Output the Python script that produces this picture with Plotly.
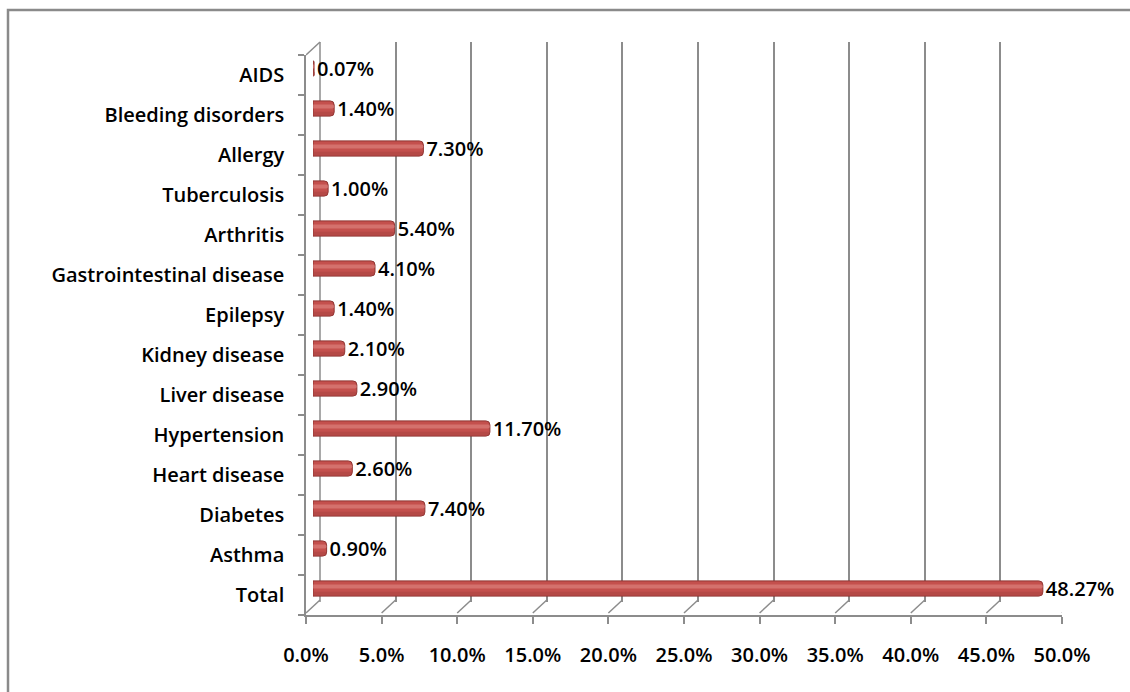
import plotly.graph_objects as go

# ---- data ----
categories = ["Total", "Asthma", "Diabetes", "Heart disease", "Hypertension",
              "Liver disease", "Kidney disease", "Epilepsy",
              "Gastrointestinal disease", "Arthritis", "Tuberculosis",
              "Allergy", "Bleeding disorders", "AIDS"]
values = [48.27, 0.90, 7.40, 2.60, 11.70, 2.90, 2.10, 1.40, 4.10, 5.40,
          1.00, 7.30, 1.40, 0.07]
value_labels = [f"{v:.2f}%" for v in values]
x_ticks = [0, 5, 10, 15, 20, 25, 30, 35, 40, 45, 50]
x_tick_labels = [f"{t:.1f}%" for t in x_ticks]

# ---- geometry (pixels) ----
W, H = 1130, 692
FX0, FX1 = 306, 1062      # front x-axis pixel span
FYT, FYB = 55, 615        # front y-axis pixel span (top, bottom)
DX, DY = 14, 13           # depth offset of back wall

def xdom(dx):
    return [(FX0 + dx) / W, (FX1 + dx) / W]

def ydom(dy):
    return [(H - FYB + dy) / H, (H - FYT + dy) / H]

FONT = "Open Sans"
GRID = "#8c8c8c"
BAR = "#C4504D"
TXT = dict(family=FONT, size=20, color="black", weight=600)

fig = go.Figure()

# empty trace so the back-wall subplot is rendered
fig.add_trace(go.Scatter(x=[], y=[], xaxis="x2", yaxis="y2",
                         hoverinfo="skip", showlegend=False))

# main cylinder bars (mid depth)
fig.add_trace(go.Bar(
    x=values, y=categories, orientation="h",
    xaxis="x3", yaxis="y3",
    width=0.38, offset=-0.19,
    marker=dict(color=BAR, line=dict(color="#8E3431", width=1), cornerradius=4),
    text=value_labels, textposition="outside", cliponaxis=False,
    constraintext="none", textfont=TXT,
    hoverinfo="skip", showlegend=False,
))
# dark lower band
fig.add_trace(go.Bar(
    x=values, y=categories, orientation="h",
    xaxis="x3", yaxis="y3",
    width=0.1, offset=-0.18,
    marker=dict(color="#A3403D", line=dict(width=0), cornerradius=2, opacity=0.45),
    hoverinfo="skip", showlegend=False,
))
# light highlight band
fig.add_trace(go.Bar(
    x=values, y=categories, orientation="h",
    xaxis="x3", yaxis="y3",
    width=0.1, offset=0.0,
    marker=dict(color="#E28C89", line=dict(width=0), cornerradius=2, opacity=0.55),
    hoverinfo="skip", showlegend=False,
))

shapes = []
# floor diagonals from each front tick to the back wall
for t in x_ticks:
    shapes.append(dict(
        type="line", xref="x", xsizemode="pixel", xanchor=t, x0=0, x1=DX,
        yref="paper", ysizemode="pixel", yanchor=(H - FYB + 2) / H, y0=0, y1=DY,
        line=dict(color=GRID, width=1.5), layer="below"))
# top-left wall diagonal
shapes.append(dict(
    type="line", xref="x", xsizemode="pixel", xanchor=0, x0=0, x1=DX,
    yref="paper", ysizemode="pixel", yanchor=(H - FYT) / H, y0=0, y1=DY,
    line=dict(color=GRID, width=1.5), layer="below"))
# back-wall left edge (0% line), in paper coords so it is not clipped
shapes.append(dict(
    type="line", xref="paper", x0=xdom(DX)[0], x1=xdom(DX)[0],
    yref="paper", y0=ydom(DY)[0], y1=ydom(DY)[1],
    line=dict(color=GRID, width=1.5), layer="below"))
# chart border
shapes.append(dict(
    type="rect", xref="paper", yref="paper",
    x0=8 / W, x1=1.05, y0=-0.05, y1=(H - 10) / H,
    line=dict(color="#8a8a8a", width=2.5), fillcolor="rgba(0,0,0,0)", layer="below"))

fig.update_layout(
    width=W, height=H,
    margin=dict(l=0, r=0, t=0, b=0, autoexpand=False),
    paper_bgcolor="white", plot_bgcolor="rgba(0,0,0,0)",
    barmode="overlay",
    showlegend=False,
    font=dict(family=FONT, size=20, color="black"),
    shapes=shapes,
    # front axes
    xaxis=dict(domain=xdom(0), range=[0, 50], anchor="y", automargin=False,
               showgrid=False, zeroline=False,
               showline=True, linecolor=GRID, linewidth=1.5,
               ticks="outside", ticklen=7, tickcolor=GRID, tickwidth=1.5,
               tickvals=x_ticks, ticktext=x_tick_labels,
               ticklabelstandoff=14, tickfont=TXT),
    yaxis=dict(domain=ydom(0), range=[-0.5, len(categories) - 0.5], anchor="x",
               automargin=False,
               type="category", categoryorder="array", categoryarray=categories,
               showgrid=False, zeroline=False,
               showline=True, linecolor=GRID, linewidth=1.5,
               ticks="outside", ticklen=6, tickcolor=GRID, tickwidth=1.5,
               tickson="boundaries", ticklabelstandoff=16, tickfont=TXT),
    # back wall (gridlines)
    xaxis2=dict(domain=xdom(DX), range=[0, 50], anchor="y2", automargin=False,
                showgrid=True, gridcolor=GRID, gridwidth=1.5,
                tickvals=x_ticks, showticklabels=False, ticks="",
                zeroline=False, showline=False),
    yaxis2=dict(domain=ydom(DY), range=[0, 1], anchor="x2", automargin=False,
                showgrid=False, showticklabels=False, zeroline=False,
                showline=False, ticks=""),
    # bars (mid depth)
    xaxis3=dict(domain=xdom(DX / 2), range=[0, 50], anchor="y3", visible=False,
                automargin=False),
    yaxis3=dict(domain=ydom(DY / 2), range=[-0.5, len(categories) - 0.5], anchor="x3",
                type="category", categoryorder="array", categoryarray=categories,
                visible=False, automargin=False),
)

fig.write_html("out.html")
